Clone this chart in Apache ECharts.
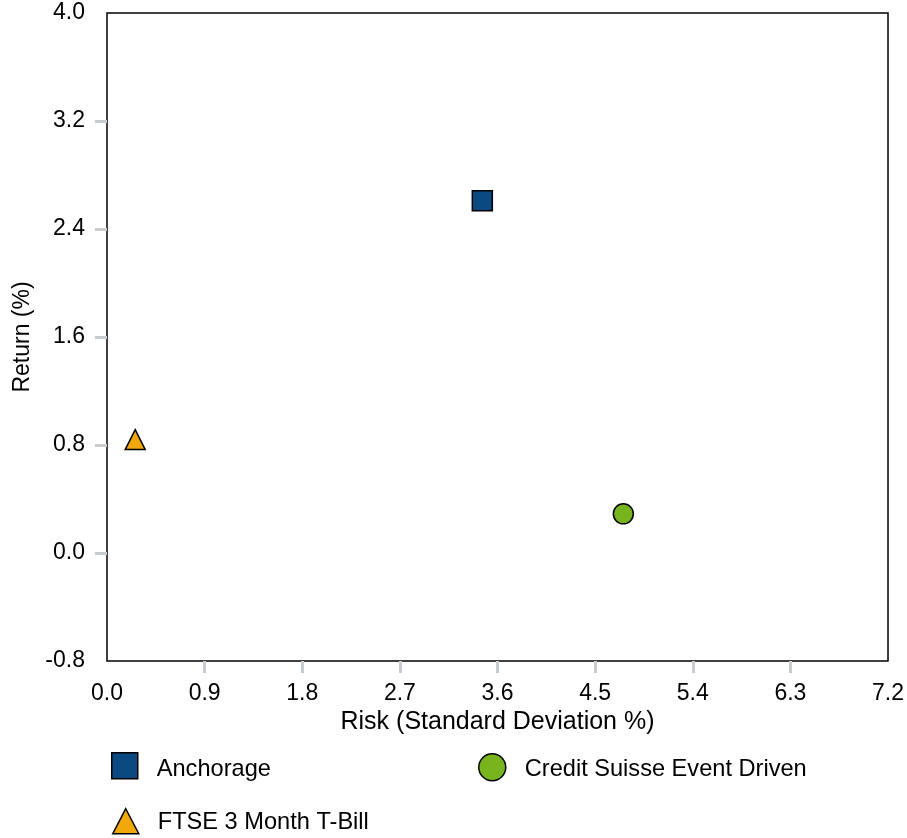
<!DOCTYPE html>
<html>
<head>
<meta charset="utf-8">
<script src="https://cdn.jsdelivr.net/npm/echarts@6/dist/echarts.min.js"></script>
<style>
html,body{margin:0;padding:0;background:#fff;}
#chart{width:907px;height:838px;}
</style>
</head>
<body>
<div id="chart"></div>
<script>
// ---- data ----
const seriesNames = ['Anchorage', 'Credit Suisse Event Driven', 'FTSE 3 Month T-Bill'];
const riskValues = [3.46, 4.76, 0.26];
const returnValues = [2.61, 0.29, 0.84];
const xTickLabels = [0, 0.9, 1.8, 2.7, 3.6, 4.5, 5.4, 6.3, 7.2];
const yTickLabels = [-0.8, 0, 0.8, 1.6, 2.4, 3.2, 4.0];
const xTickMarks = [0.9, 1.8, 2.7, 3.6, 4.5, 5.4, 6.3];
const yTickMarks = [0, 0.8, 1.6, 2.4, 3.2];
const xTitle = 'Risk (Standard Deviation %)';
const yTitle = 'Return (%)';

// ---- styles ----
const colors = ['#0b4a80', '#78b41e', '#f0a80a'];
const symbols = ['rect', 'circle', 'triangle'];
const symbolSizes = [20, 20, 20];
const FONT = '"Liberation Sans", Arial, sans-serif';
const fsTick = 23;
const fsLegend = 23.6;
const fsXTitle = 25;
const fsYTitle = 23;

const series = seriesNames.map((name, i) => ({
  name: name,
  type: 'scatter',
  symbol: symbols[i],
  symbolSize: symbolSizes[i],
  itemStyle: { color: colors[i], borderColor: '#000', borderWidth: 1.5, opacity: 1 },
  data: [[riskValues[i], returnValues[i]]],
  z: 3
}));

function legendFor(i, icon, left, top, w, h, padTop) {
  return {
    orient: 'horizontal',
    padding: 0,
    itemGap: 0,
    selectedMode: false,
    left: left, top: top,
    itemWidth: w, itemHeight: h,
    data: [{ name: seriesNames[i], icon: icon }],
    formatter: '{t|{name}}',
    textStyle: {
      fontFamily: FONT, fontSize: fsLegend, color: '#000',
      rich: { t: { fontFamily: FONT, fontSize: fsLegend, color: '#000', padding: [padTop, 0, 0, 14] } }
    },
    itemStyle: { borderColor: '#000', borderWidth: 1.5 }
  };
}

const chart = echarts.init(document.getElementById('chart'), null, { renderer: 'canvas' });
chart.setOption({
  animation: false,
  backgroundColor: '#fff',
  grid: {
    left: 107, right: 16, top: 13, bottom: 177,
    show: true, borderColor: '#000', borderWidth: 1.5, backgroundColor: 'transparent'
  },
  xAxis: {
    type: 'value',
    min: 0, max: 7.2, interval: 0.9,
    name: xTitle,
    nameLocation: 'middle',
    nameGap: 48,
    nameTextStyle: { fontFamily: FONT, fontSize: fsXTitle, color: '#000' },
    axisLine: { show: false, onZero: false },
    axisTick: { show: true, inside: false, length: 12, customValues: xTickMarks,
      lineStyle: { color: '#c8ccd0', width: 3 } },
    axisLabel: { margin: 21, fontFamily: FONT, fontSize: fsTick, color: '#000',
      customValues: xTickLabels, formatter: v => Number(v).toFixed(1) },
    splitLine: { show: false }
  },
  yAxis: {
    type: 'value',
    min: -0.8, max: 4.0, interval: 0.8,
    name: yTitle,
    nameLocation: 'middle',
    nameGap: 72,
    nameRotate: 90,
    nameTextStyle: { fontFamily: FONT, fontSize: fsYTitle, color: '#000' },
    axisLine: { show: false, onZero: false },
    axisTick: { show: true, inside: false, length: 12, customValues: yTickMarks,
      lineStyle: { color: '#c8ccd0', width: 3 } },
    axisLabel: { margin: 22, fontFamily: FONT, fontSize: fsTick, color: '#000',
      customValues: yTickLabels, formatter: v => Number(v).toFixed(1) },
    splitLine: { show: false }
  },
  legend: [
    legendFor(0, 'rect', 111, 752, 26, 26, 8),
    legendFor(1, 'circle', 478, 753, 27, 27, 5),
    legendFor(2, 'triangle', 112, 808, 26, 25, 2)
  ],
  series: series
});
</script>
</body>
</html>
